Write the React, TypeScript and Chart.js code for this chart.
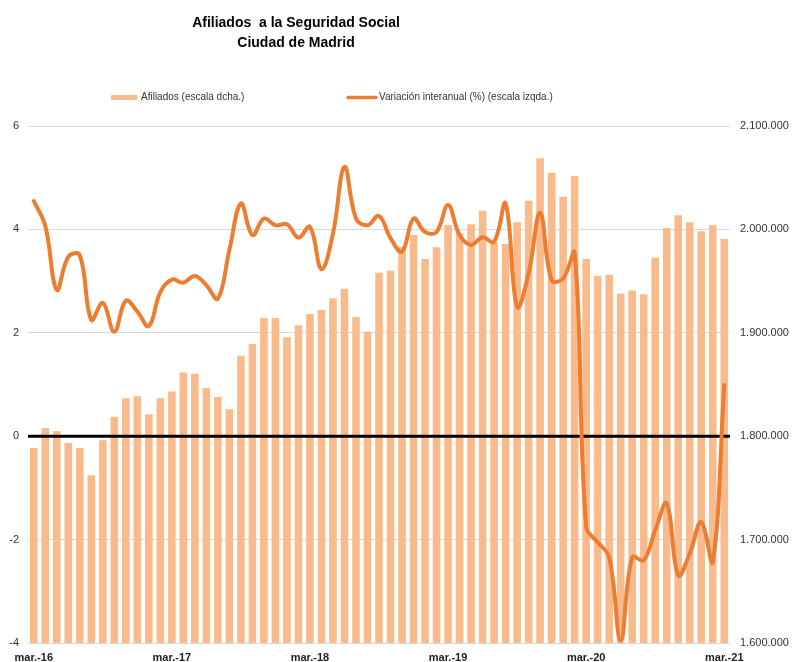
import React, { useEffect, useRef } from "react";
import { Chart, registerables } from "chart.js";

Chart.register(...registerables);

const MONTHS = ["ene.", "feb.", "mar.", "abr.", "may.", "jun.", "jul.", "ago.", "sep.", "oct.", "nov.", "dic."];
const YEARS = ["16", "17", "18", "19", "20", "21"];

// categories: mar.-16 ... mar.-21 (61 months)
const categories: string[] = [];
for (let y = 0; y < YEARS.length; y++) {
  for (let m = 0; m < 12; m++) {
    if (y === 0 && m < 2) continue;
    if (y === YEARS.length - 1 && m > 2) continue;
    categories.push(`${MONTHS[m]}-${YEARS[y]}`);
  }
}

const afiliados = [
  1788700, 1808000, 1804800, 1793500, 1788700, 1762200, 1796100, 1818700, 1836800, 1838700,
  1821300, 1836800, 1843300, 1861700, 1860300, 1846500, 1837800, 1826100, 1877700, 1889100,
  1914200, 1914200, 1895800, 1907400, 1918100, 1922000, 1933300, 1942600, 1915200, 1901000,
  1958100, 1960000, 1983000, 1994600, 1971300, 1982700, 2004200, 1996000, 2005000, 2018000,
  1987500, 1985900, 2006900, 2027800, 2068800, 2054900, 2031600, 2051700, 1971300, 1955200,
  1956100, 1938100, 1941000, 1937200, 1972600, 2001300, 2013600, 2006900, 1998100, 2004000,
  1990700,
];

const variacion = [
  4.55, 4.07, 2.83, 3.47, 3.5, 2.25, 2.58, 2.02, 2.62, 2.41,
  2.13, 2.79, 3.03, 2.97, 3.1, 2.92, 2.66, 3.6, 4.5, 3.89,
  4.21, 4.08, 4.1, 3.84, 4.05, 3.23, 3.92, 5.21, 4.21, 4.08,
  4.26, 3.83, 3.57, 4.21, 3.95, 3.95, 4.47, 3.89, 3.7, 3.85,
  3.76, 4.5, 2.5, 3.15, 4.32, 3.02, 3.05, 3.54, -1.75, -2.05,
  -2.34, -3.95, -2.34, -2.4, -1.82, -1.3, -2.69, -2.27, -1.66, -2.43,
  0.99,
];

const leftTicks = [-4, -2, 0, 2, 4, 6];
const rightTicks = [1600000, 1700000, 1800000, 1900000, 2000000, 2100000];

const titleLines = ["Afiliados  a la Seguridad Social", "Ciudad de Madrid"];
const legendBar = "Afiliados (escala dcha.)";
const legendLine = "Variación interanual (%) (escala izqda.)";

const BAR_COLOR = "rgb(249,187,140)";
const LINE_COLOR = "#ED7D31";
const FONT = "'Liberation Sans', Arial, sans-serif";

const fmtThousands = (v: number) => String(Math.round(v)).replace(/\B(?=(\d{3})+(?!\d))/g, ".");

export default function App() {
  const ref = useRef<HTMLCanvasElement | null>(null);

  useEffect(() => {
    document.body.style.margin = "0";
    const canvas = ref.current;
    if (!canvas) return;

    const decorPlugin = {
      id: "decor",
      afterDatasetDraw(chart: any, args: any) {
        if (args.index !== 0) return;
        const { ctx, chartArea, scales } = chart;
        const y = scales.y.getPixelForValue(0);
        ctx.save();
        ctx.strokeStyle = "#000";
        ctx.lineWidth = 3;
        ctx.beginPath();
        ctx.moveTo(chartArea.left, y);
        ctx.lineTo(chartArea.right, y);
        ctx.stroke();
        ctx.restore();
      },
      afterDraw(chart: any) {
        const { ctx } = chart;
        ctx.save();
        // title
        ctx.fillStyle = "#000";
        ctx.font = `bold 14px ${FONT}`;
        ctx.textAlign = "center";
        ctx.textBaseline = "alphabetic";
        ctx.fillText(titleLines[0], 296, 27);
        ctx.fillText(titleLines[1], 296, 46.5);
        // legend
        ctx.font = `10px ${FONT}`;
        ctx.textAlign = "left";
        ctx.textBaseline = "middle";
        ctx.fillStyle = BAR_COLOR;
        ctx.fillRect(111, 95, 26, 5);
        ctx.fillStyle = "#333";
        ctx.fillText(legendBar, 141, 97.5);
        ctx.strokeStyle = LINE_COLOR;
        ctx.lineWidth = 3.5;
        ctx.lineCap = "round";
        ctx.beginPath();
        ctx.moveTo(348, 97.5);
        ctx.lineTo(376, 97.5);
        ctx.stroke();
        ctx.fillStyle = "#333";
        ctx.fillText(legendLine, 379, 97.5);
        ctx.restore();
      },
    };

    const chart = new Chart(canvas, {
      type: "bar",
      data: {
        labels: categories,
        datasets: [
          {
            type: "bar",
            label: legendBar,
            data: afiliados,
            backgroundColor: BAR_COLOR,
            yAxisID: "y1",
            order: 2,
            categoryPercentage: 1,
            barPercentage: 0.66,
          },
          {
            type: "line",
            label: legendLine,
            data: variacion,
            borderColor: LINE_COLOR,
            backgroundColor: LINE_COLOR,
            borderWidth: 4,
            pointRadius: 0,
            tension: 0.4,
            borderCapStyle: "round",
            borderJoinStyle: "round",
            yAxisID: "y",
            order: 1,
            clip: false,
          } as any,
        ],
      },
      options: {
        responsive: false,
        animation: false,
        layout: { padding: { top: 126, left: 0, right: 0, bottom: 0 } },
        plugins: {
          legend: { display: false },
          title: { display: false },
          tooltip: { enabled: false },
        },
        scales: {
          x: {
            type: "category",
            offset: true,
            grid: { display: false, drawTicks: false },
            border: { display: false },
            afterFit: (s: any) => {
              s.height = 19;
            },
            ticks: {
              autoSkip: false,
              maxRotation: 0,
              minRotation: 0,
              padding: 8,
              color: "#222",
              font: { family: FONT, size: 11, weight: "bold" },
              callback: (_v: any, i: number) => (i % 12 === 0 ? categories[i] : ""),
            },
          },
          y: {
            position: "left",
            min: leftTicks[0],
            max: leftTicks[leftTicks.length - 1],
            afterBuildTicks: (s: any) => {
              s.ticks = leftTicks.map((v) => ({ value: v }));
            },
            afterFit: (s: any) => {
              s.width = 28;
            },
            grid: {
              drawTicks: false,
              color: (c: any) => (c.tick && c.tick.value === 0 ? "rgba(0,0,0,0)" : "#d9d9d9"),
              lineWidth: 1,
            },
            border: { display: false },
            ticks: {
              padding: 9,
              color: "#333",
              font: { family: FONT, size: 11 },
              callback: (v: any) => String(v),
            },
          },
          y1: {
            position: "right",
            min: rightTicks[0],
            max: rightTicks[rightTicks.length - 1],
            afterBuildTicks: (s: any) => {
              s.ticks = rightTicks.map((v) => ({ value: v }));
            },
            afterFit: (s: any) => {
              s.width = 62;
            },
            grid: { display: false, drawTicks: false },
            border: { display: false },
            ticks: {
              padding: 10,
              color: "#333",
              font: { family: FONT, size: 11 },
              callback: (v: any) => fmtThousands(Number(v)),
            },
          },
        },
      } as any,
      plugins: [decorPlugin],
    });

    return () => chart.destroy();
  }, []);

  return (
    <div style={{ width: 792, height: 662 }}>
      <canvas ref={ref} width={792} height={662} style={{ display: "block" }} />
    </div>
  );
}
